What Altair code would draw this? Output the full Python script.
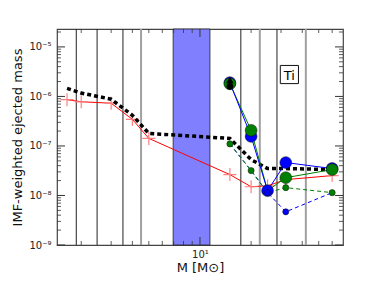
import altair as alt
import pandas as pd

# ---------------- data ----------------
masses = [1.65, 2, 3, 4, 5, 15, 20, 25, 32, 60]
red_vals = [8.6e-7, 7.8e-7, 7.3e-7, 3.45e-7, 1.42e-7, 2.64e-8, 1.5e-8, 1.57e-8, 2.09e-8, 2.52e-8]
black_dot_vals = [1.45e-6, 1.17e-6, 8.8e-7, 4.16e-7, 1.79e-7, 1.42e-7, 5.3e-8, 3.49e-8, 3.5e-8, 3.33e-8]

massive = [15, 20, 25, 32, 60]
blue_big = [1.9e-6, 1.56e-7, 1.25e-8, 4.62e-8, 3.5e-8]
green_big = [1.8e-6, 2.07e-7, 1.25e-8, 2.29e-8, 3.33e-8]
green_small = [1.1e-7, 3.18e-8, 1.14e-8, 1.44e-8, 1.14e-8]
blue_small = [1.1e-7, 3.18e-8, 1.14e-8, 4.68e-9, 1.14e-8]
green_big_shown = [True, True, False, True, True]
green_small_shown = [True, True, False, True, True]
blue_small_shown = [False, False, True, True, False]

black_tri_M, black_tri_v = [15], [2.15e-6]
black_circ_M, black_circ_v = [15], [1.6e-6]

vlines_black = [1.87, 2.48, 3.52, 17.4, 28.4]
vlines_grey = [4.5, 22.5, 42.0]
span_lo, span_hi = [6.95], [11.45]

label_M, label_v, label_txt = [33.6], [2.77e-6], ["Ti"]

y_major = [1e-9, 1e-8, 1e-7, 1e-6, 1e-5]
y_minor = [k * 10.0 ** d for d in range(-9, -5) for k in range(2, 10)] + [2e-5]
x_major = [10]
x_minor = [2, 3, 4, 5, 6, 7, 8, 9, 20, 30, 40, 50, 60]

W, H = 286, 216
xscale = alt.Scale(type="log", domain=[1.44, 69.5], nice=False)
yscale = alt.Scale(type="log", domain=[1e-9, 2.3e-5], nice=False)

ylabel = ("'10' + (round(log(datum.value)/LN10) == -9 ? '⁻⁹' : round(log(datum.value)/LN10) == -8 ? '⁻⁸' : "
          "round(log(datum.value)/LN10) == -7 ? '⁻⁷' : round(log(datum.value)/LN10) == -6 ? '⁻⁶' : '⁻⁵')")

xaxis = alt.Axis(values=x_major, labelExpr="'10¹'", ticks=False, grid=False, domain=False,
                 title="M [M⊙]", labelFontSize=10, titleFontSize=13, labelPadding=4,
                 titlePadding=2, labelColor="#222", titleColor="#111", titleFontWeight="normal",
                 labelFont="DejaVu Sans", titleFont="DejaVu Sans")
yaxis = alt.Axis(values=y_major, labelExpr=ylabel, ticks=False, grid=False, domain=False,
                 title="IMF-weighted ejected mass", labelFontSize=10, titleFontSize=13,
                 labelPadding=6, titlePadding=4, labelColor="#222", titleColor="#111",
                 titleFontWeight="normal", labelFont="DejaVu Sans", titleFont="DejaVu Sans")


def X():
    return alt.X("M:Q", scale=xscale, axis=xaxis)


def Y():
    return alt.Y("v:Q", scale=yscale, axis=yaxis)


def df(M, v, **extra):
    d = pd.DataFrame({"M": M, "v": v})
    for k, val in extra.items():
        d[k] = val
    return d


layers = []

# span
span = alt.Chart(pd.DataFrame({"M": span_lo, "M2": span_hi})).mark_rect(
    fill="#8080ff", stroke="#222", strokeWidth=0.8).encode(
    x=X(), x2="M2:Q", y=alt.value(0), y2=alt.value(H))
layers.append(span)

# vertical lines
vb = alt.Chart(pd.DataFrame({"M": vlines_black})).mark_rule(color="#222", strokeWidth=1).encode(
    x=X(), y=alt.value(0), y2=alt.value(H))
vg = alt.Chart(pd.DataFrame({"M": vlines_grey})).mark_rule(color="#a0a0a0", strokeWidth=2).encode(
    x=X(), y=alt.value(0), y2=alt.value(H))
layers += [vb, vg]

# inward ticks
tick_col = "#333"
layers.append(alt.Chart(pd.DataFrame({"v": y_major})).mark_rule(color=tick_col, strokeWidth=1).encode(
    y=Y(), x=alt.value(0), x2=alt.value(8)))
layers.append(alt.Chart(pd.DataFrame({"v": y_major})).mark_rule(color=tick_col, strokeWidth=1).encode(
    y=Y(), x=alt.value(W - 8), x2=alt.value(W)))
layers.append(alt.Chart(pd.DataFrame({"v": y_minor})).mark_rule(color=tick_col, strokeWidth=0.8).encode(
    y=Y(), x=alt.value(0), x2=alt.value(4)))
layers.append(alt.Chart(pd.DataFrame({"v": y_minor})).mark_rule(color=tick_col, strokeWidth=0.8).encode(
    y=Y(), x=alt.value(W - 4), x2=alt.value(W)))
layers.append(alt.Chart(pd.DataFrame({"M": x_major})).mark_rule(color=tick_col, strokeWidth=1).encode(
    x=X(), y=alt.value(H - 8), y2=alt.value(H)))
layers.append(alt.Chart(pd.DataFrame({"M": x_major})).mark_rule(color=tick_col, strokeWidth=1).encode(
    x=X(), y=alt.value(0), y2=alt.value(8)))
layers.append(alt.Chart(pd.DataFrame({"M": x_minor})).mark_rule(color=tick_col, strokeWidth=0.8).encode(
    x=X(), y=alt.value(H - 4), y2=alt.value(H)))
layers.append(alt.Chart(pd.DataFrame({"M": x_minor})).mark_rule(color=tick_col, strokeWidth=0.8).encode(
    x=X(), y=alt.value(0), y2=alt.value(4)))

# red line + crosses
red_df = df(masses, red_vals)
layers.append(alt.Chart(red_df).mark_line(color="#ff0000", strokeWidth=1).encode(x=X(), y=Y()))
layers.append(alt.Chart(red_df).mark_point(shape="M-1,0L1,0M0,-1L0,1", filled=False, stroke="#ff8080",
                                           strokeWidth=1.2, size=170, opacity=1).encode(x=X(), y=Y()))

# black dotted thick line
layers.append(alt.Chart(df(masses, black_dot_vals)).mark_line(
    color="black", strokeWidth=3.5, strokeDash=[4, 3]).encode(x=X(), y=Y()))

# small dashed series lines
layers.append(alt.Chart(df(massive, blue_small)).mark_line(
    color="#0000ff", strokeWidth=1, strokeDash=[4, 3]).encode(x=X(), y=Y()))
layers.append(alt.Chart(df(massive, green_small)).mark_line(
    color="#008000", strokeWidth=1, strokeDash=[4, 3]).encode(x=X(), y=Y()))

# big solid series lines
layers.append(alt.Chart(df(massive, green_big)).mark_line(color="#008000", strokeWidth=1).encode(x=X(), y=Y()))
layers.append(alt.Chart(df(massive, blue_big)).mark_line(color="#0000ff", strokeWidth=1).encode(x=X(), y=Y()))

# big points
layers.append(alt.Chart(df(massive, blue_big)).mark_circle(
    color="#0000ff", size=140, opacity=1, stroke="#111", strokeWidth=0.5).encode(x=X(), y=Y()))
gb = df(massive, green_big, shown=green_big_shown)
layers.append(alt.Chart(gb[gb["shown"]]).mark_circle(
    color="#008000", size=140, opacity=1, stroke="#111", strokeWidth=0.5).encode(x=X(), y=Y()))

# small points
gs = df(massive, green_small, shown=green_small_shown)
layers.append(alt.Chart(gs[gs["shown"]]).mark_circle(
    color="#008000", size=38, opacity=1, stroke="#111", strokeWidth=0.5).encode(x=X(), y=Y()))
bs = df(massive, blue_small, shown=blue_small_shown)
layers.append(alt.Chart(bs[bs["shown"]]).mark_circle(
    color="#0000ff", size=38, opacity=1, stroke="#111", strokeWidth=0.5).encode(x=X(), y=Y()))

# black markers at 15
layers.append(alt.Chart(df(black_tri_M, black_tri_v)).mark_point(
    shape="triangle-up", filled=True, color="black", size=55, opacity=1).encode(x=X(), y=Y()))
layers.append(alt.Chart(df(black_circ_M, black_circ_v)).mark_circle(
    color="black", size=45, opacity=1).encode(x=X(), y=Y()))

# Ti label box
lab = pd.DataFrame({"M": label_M, "v": label_v, "t": label_txt})
layers.append(alt.Chart(lab).mark_point(shape="square", filled=True, fill="white", stroke="#111",
                                        strokeWidth=1, size=330, opacity=1).encode(x=X(), y=Y()))
layers.append(alt.Chart(lab).mark_text(fontSize=13, font="DejaVu Sans", color="black",
                                       baseline="middle", align="center", dy=1).encode(
    x=X(), y=Y(), text="t:N"))

chart = alt.layer(*layers).properties(
    width=W, height=H,
    padding={"left": 49, "top": 21, "right": 25, "bottom": 33},
    autosize=alt.AutoSizeParams(type="none"),
    background="white",
).configure_view(stroke="#444", strokeWidth=1.2)

chart.save("out.html", embed_options={"renderer": "svg", "actions": False})
